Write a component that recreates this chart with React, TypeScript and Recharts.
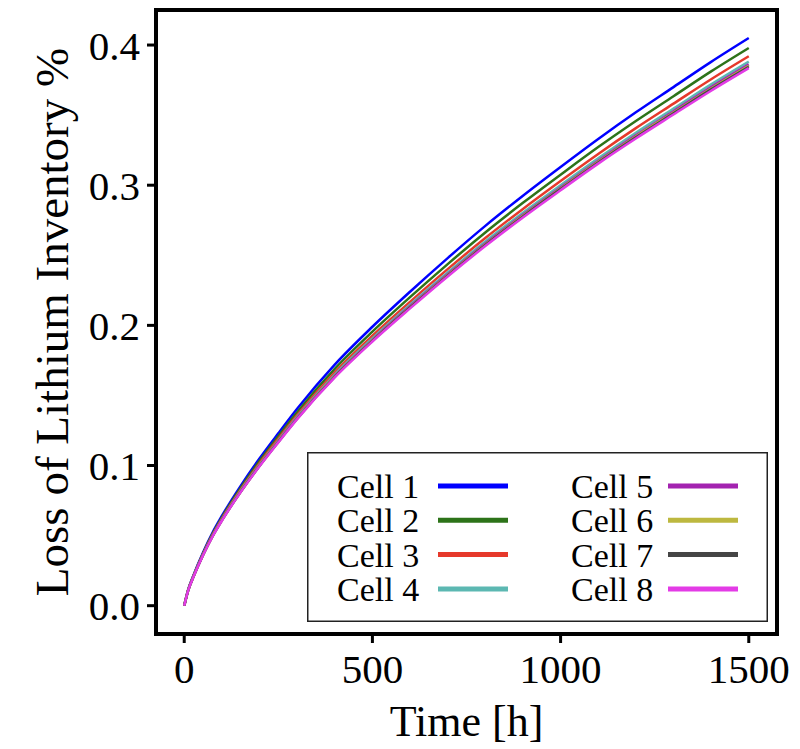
import React from 'react';
import { LineChart, Line, XAxis, YAxis, Legend, Label, ReferenceArea } from 'recharts';

// time axis, hours
const hours = [0, 10, 25, 50, 75, 100, 150, 200, 250, 300, 400, 500, 600, 700, 800, 900, 1000, 1100, 1200, 1300, 1400, 1500];

// loss of lithium inventory (%)
const cell1 = [0, 0.011, 0.022, 0.038, 0.052, 0.064, 0.0855, 0.105, 0.123, 0.1405, 0.172, 0.199, 0.224, 0.248, 0.271, 0.2925, 0.313, 0.333, 0.352, 0.37, 0.388, 0.405];
const cell2 = [0, 0.0108, 0.0216, 0.0373, 0.0511, 0.0629, 0.084, 0.1032, 0.1208, 0.138, 0.169, 0.1955, 0.2201, 0.2437, 0.2663, 0.2874, 0.3075, 0.3272, 0.3458, 0.3635, 0.3812, 0.3979];
const cell3 = [0, 0.0106, 0.0213, 0.0368, 0.0503, 0.062, 0.0828, 0.1016, 0.1191, 0.136, 0.1665, 0.1926, 0.2168, 0.2401, 0.2623, 0.2831, 0.303, 0.3223, 0.3407, 0.3582, 0.3756, 0.392];
const cell4 = [0, 0.0105, 0.0211, 0.0364, 0.0498, 0.0613, 0.082, 0.1006, 0.1179, 0.1347, 0.1649, 0.1907, 0.2147, 0.2377, 0.2598, 0.2804, 0.3, 0.3192, 0.3374, 0.3546, 0.3719, 0.3882];
const cell5 = [0, 0.0105, 0.021, 0.0362, 0.0496, 0.061, 0.0815, 0.1001, 0.1173, 0.134, 0.164, 0.1897, 0.2136, 0.2365, 0.2584, 0.2789, 0.2984, 0.3175, 0.3356, 0.3528, 0.37, 0.3862];
const cell6 = [0, 0.0105, 0.0209, 0.0361, 0.0495, 0.0609, 0.0813, 0.0999, 0.117, 0.1336, 0.1636, 0.1892, 0.213, 0.2358, 0.2577, 0.2782, 0.2977, 0.3167, 0.3348, 0.3519, 0.369, 0.3852];
const cell7 = [0, 0.0104, 0.0209, 0.0361, 0.0494, 0.0608, 0.0812, 0.0997, 0.1168, 0.1334, 0.1633, 0.1889, 0.2127, 0.2355, 0.2573, 0.2777, 0.2972, 0.3162, 0.3342, 0.3513, 0.3684, 0.3845];
const cell8 = [0, 0.0104, 0.0208, 0.036, 0.0492, 0.0606, 0.081, 0.0994, 0.1165, 0.1331, 0.1629, 0.1885, 0.2121, 0.2349, 0.2566, 0.277, 0.2964, 0.3154, 0.3333, 0.3504, 0.3674, 0.3835];

const cellNames = ['Cell 1', 'Cell 2', 'Cell 3', 'Cell 4', 'Cell 5', 'Cell 6', 'Cell 7', 'Cell 8'];
const cellColors = ['#0000ff', '#2d7319', '#e6392b', '#5cb8b2', '#a323b0', '#bdb83f', '#454545', '#e33be6'];
const cellSeries = [cell1, cell2, cell3, cell4, cell5, cell6, cell7, cell8];

const xTicks = [0, 500, 1000, 1500];
const yTicks = [0, 0.1, 0.2, 0.3, 0.4];
const xDomain = [-75, 1575];
const yDomain = [-0.0202, 0.425];

const rows = hours.map((t, i) => {
  const row: Record<string, number> = { t };
  cellSeries.forEach((s, k) => {
    row[`c${k + 1}`] = s[i];
  });
  return row;
});

const serif = '"Liberation Serif", "Times New Roman", serif';

const LegendBox = ({ payload }: any) => {
  if (!payload) return null;
  return (
    <svg width={461} height={170} style={{ display: 'block', overflow: 'visible' }}>
      <rect x={0.75} y={0.75} width={459.5} height={168.5} fill="#fff" stroke="#222" strokeWidth={1.5} />
      {payload.map((p: any, i: number) => {
        // two columns, filled column by column
        const col = Math.floor(i / 4);
        const row = i % 4;
        const cy = 34 + row * 34.3;
        const tx = col === 0 ? 30 : 264;
        const lx = col === 0 ? 131 : 361;
        return (
          <g key={p.value}>
            <text x={tx} y={cy + 12} style={{ fontFamily: serif }} fontSize={34} fill="#000">
              {p.value}
            </text>
            <line x1={lx} x2={lx + 70} y1={cy} y2={cy} stroke={p.color} strokeWidth={5} />
          </g>
        );
      })}
    </svg>
  );
};

export default function App() {
  return (
    <div style={{ position: 'absolute', left: 0, top: 0, width: 800, height: 749, background: '#fff' }}>
      <LineChart width={800} height={749} data={rows} margin={{ top: 10, right: 23, bottom: 5, left: 16 }}>
        <XAxis
          dataKey="t"
          type="number"
          domain={xDomain}
          allowDataOverflow
          ticks={xTicks}
          height={110}
          tickSize={9}
          tickMargin={11}
          tick={{ fontSize: 41, style: { fontFamily: serif }, fill: '#000' }}
          tickLine={{ stroke: '#000', strokeWidth: 3 }}
          axisLine={false}
        >
          <Label
            content={(p: any) => (
              <text
                x={p.viewBox.x + p.viewBox.width / 2}
                y={p.viewBox.y + 102}
                textAnchor="middle"
                style={{ fontFamily: serif }}
                fontSize={44}
                fill="#000"
              >
                Time [h]
              </text>
            )}
          />
        </XAxis>
        <YAxis
          type="number"
          domain={yDomain}
          allowDataOverflow
          ticks={yTicks}
          width={140}
          tickSize={9}
          tickMargin={7}
          tickFormatter={(v: number) => v.toFixed(1)}
          tick={{ fontSize: 41, style: { fontFamily: serif }, fill: '#000' }}
          tickLine={{ stroke: '#000', strokeWidth: 3 }}
          axisLine={false}
        >
          <Label
            content={(p: any) => {
              const cx = p.viewBox.x + 36;
              const cy = p.viewBox.y + p.viewBox.height / 2;
              return (
                <text
                  x={cx}
                  y={cy}
                  transform={`rotate(-90, ${cx}, ${cy})`}
                  textAnchor="middle"
                  dominantBaseline="central"
                  style={{ fontFamily: serif }}
                  fontSize={47}
                  fill="#000"
                >
                  Loss of Lithium Inventory %
                </text>
              );
            }}
          />
        </YAxis>
        {cellNames.map((name, k) => (
          <Line
            key={name}
            type="monotone"
            dataKey={`c${k + 1}`}
            name={name}
            stroke={cellColors[k]}
            strokeWidth={2.5}
            dot={false}
            activeDot={false}
            isAnimationActive={false}
          />
        ))}
        <ReferenceArea
          x1={xDomain[0]}
          x2={xDomain[1]}
          y1={yDomain[0]}
          y2={yDomain[1]}
          ifOverflow="visible"
          fill="none"
          fillOpacity={0}
          stroke="#000"
          strokeWidth={4}
        />
        <Legend
          content={<LegendBox />}
          wrapperStyle={{ left: 307, top: 452, bottom: 'auto', width: 0, height: 0, overflow: 'visible' }}
        />
      </LineChart>
    </div>
  );
}
